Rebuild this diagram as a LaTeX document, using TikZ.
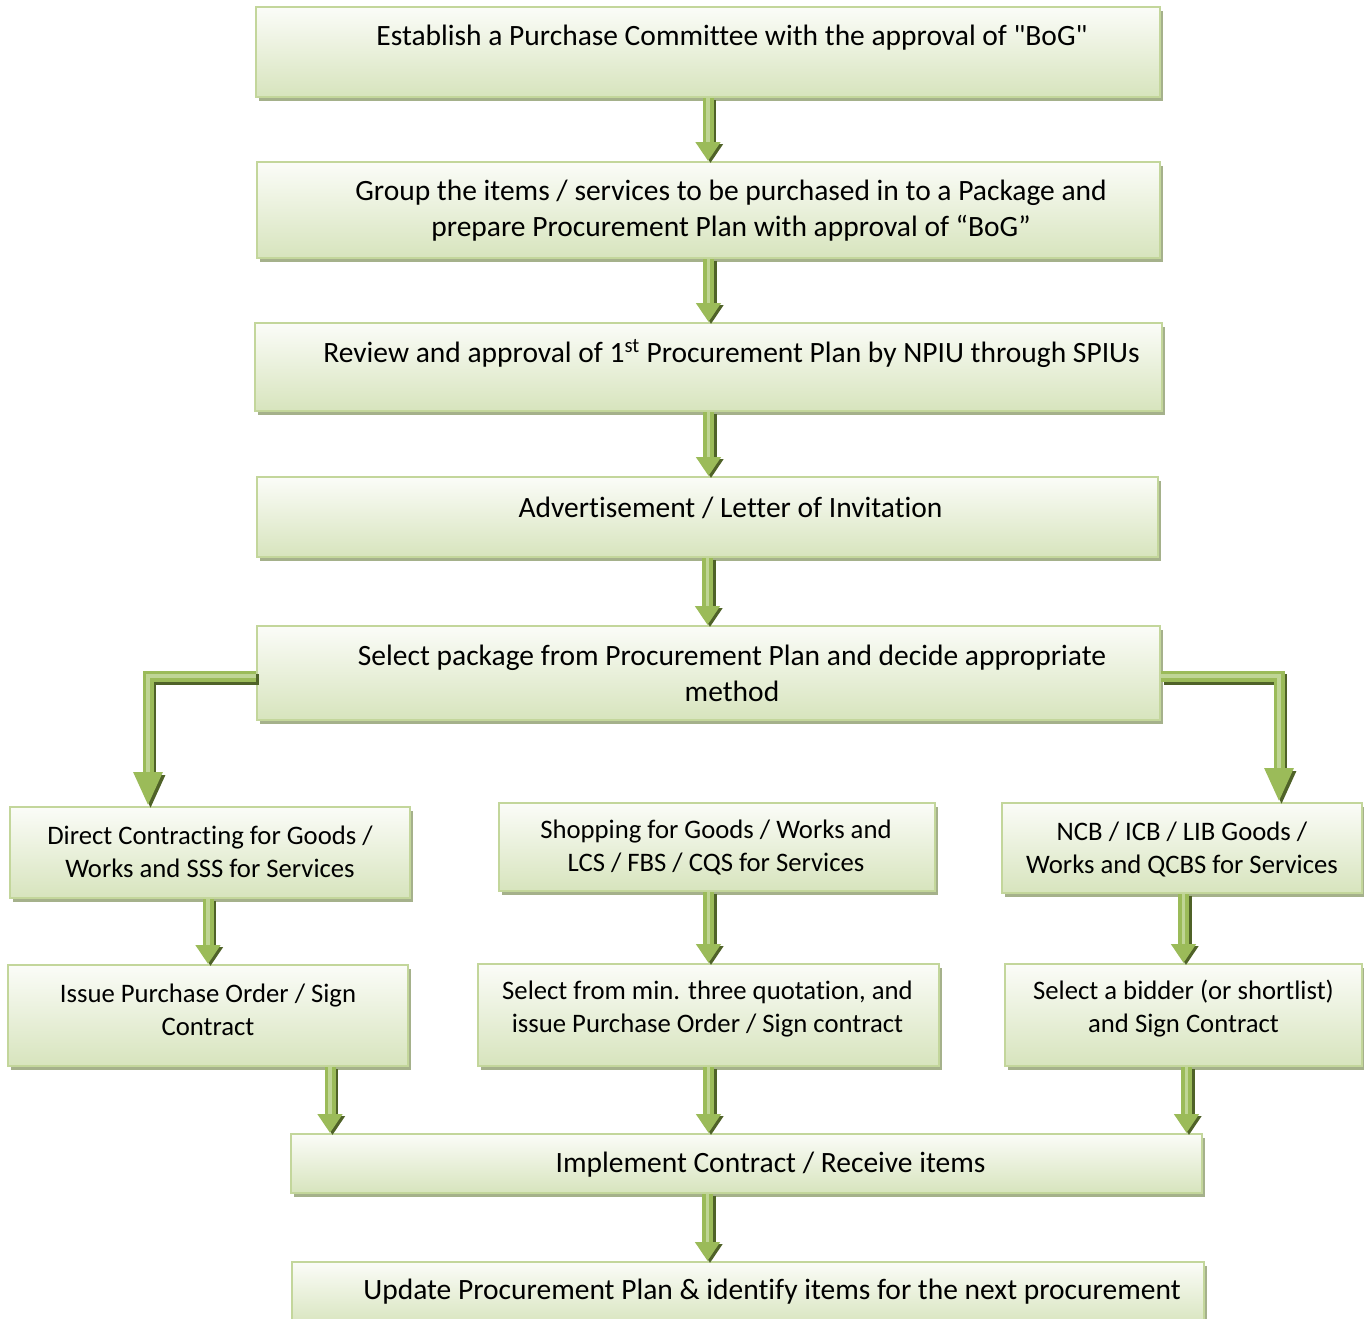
\documentclass[tikz,border=0pt]{standalone}
\usepackage{fontspec}
\setmainfont{Carlito}[Ligatures={TeX,NoCommon,NoContextual,NoRare,NoDiscretionary},Contextuals=NoAlternate]
\newfontfamily\nomapfont{Carlito}
\usetikzlibrary{arrows.meta,shadows}
\definecolor{bordergreen}{HTML}{C3D69B}
\definecolor{filltop}{HTML}{FBFCF8}
\definecolor{fillbot}{HTML}{D7E4BD}
\definecolor{shadowgreen}{HTML}{A5B18B}
\definecolor{arrowgreen}{HTML}{9BBB59}
\definecolor{arrowdark}{HTML}{4F6228}
\definecolor{arrowlight}{HTML}{BFD595}
\begin{document}
\begin{tikzpicture}[x=1pt,y=-1pt,
 box/.style={rectangle, draw=bordergreen, line width=2pt, top color=filltop, bottom color=fillbot,
   drop shadow={shadow xshift=3pt,shadow yshift=-3.5pt,fill=shadowgreen,opacity=1}, inner sep=0pt},
 bigtxt/.style={font=\fontsize{29.5}{36}\selectfont, align=center, inner sep=0pt, text=black},
 smalltxt/.style={font=\fontsize{26.7}{33}\selectfont, align=center, inner sep=0pt, text=black},
 barrow/.style={line width=11pt, draw=arrowgreen, -{Triangle[width=24pt,length=19pt]},
   preaction={draw=arrowdark, line width=11pt, -{Triangle[width=24pt,length=19pt]}, transform canvas={xshift=2.5pt,yshift=-2pt}},
   postaction={draw=arrowlight, line width=3.5pt, -, shorten >=19pt}},
 elbow/.style={line width=11pt, draw=arrowgreen, -{Triangle[width=27pt,length=34pt]}, line join=miter,
   preaction={draw=arrowdark, line width=11pt, line join=miter, -{Triangle[width=27pt,length=34pt]}, transform canvas={xshift=2.5pt,yshift=-3pt}},
   postaction={draw=arrowlight, line width=3.5pt, -, shorten >=34pt}}
]
\useasboundingbox (0,0) rectangle (1364,1318);

% boxes
\node[box, minimum width=904pt, minimum height=90pt] (b1) at (708,52) {};
\node[box, minimum width=903pt, minimum height=96pt] (b2) at (708.5,210) {};
\node[box, minimum width=907pt, minimum height=88pt] (b3) at (708.5,367) {};
\node[box, minimum width=901pt, minimum height=80pt] (b4) at (707.5,517) {};
\node[box, minimum width=903pt, minimum height=94pt] (b5) at (708.5,673) {};
\node[box, minimum width=400pt, minimum height=91pt] (direct) at (210,852.5) {};
\node[box, minimum width=436pt, minimum height=88pt] (shop) at (717,847) {};
\node[box, minimum width=360pt, minimum height=90pt] (ncb) at (1182,848) {};
\node[box, minimum width=400pt, minimum height=101pt] (issue) at (208,1015.5) {};
\node[box, minimum width=461pt, minimum height=102pt] (selq) at (708.5,1015) {};
\node[box, minimum width=357pt, minimum height=102pt] (bid) at (1183.5,1015) {};
\node[box, minimum width=911pt, minimum height=59pt] (impl) at (746.5,1163.5) {};
\node[box, minimum width=912pt, minimum height=64pt] (upd) at (748,1294) {};

% texts
\node[bigtxt] (t1) at (732,37.5) {Establish a Purchase Committee with the approval of {\nomapfont"}BoG{\nomapfont"}};
\node[bigtxt] (t2) at (731,210.5) {Group the items / services to be purchased in to a Package and\\prepare Procurement Plan with approval of “BoG”};
\node[bigtxt] (t3) at (731.5,353.5) {Review and approval of 1\textsuperscript{st} Procurement Plan by NPIU through SPIUs};
\node[bigtxt] (t4) at (730.5,507.5) {Advertisement / Letter of Invitation};
\node[bigtxt] (t5) at (732,673.5) {Select package from Procurement Plan and decide appropriate\\method};
\node[smalltxt] (t6) at (210,852) {Direct Contracting for Goods /\\Works and SSS for Services};
\node[smalltxt] (t7) at (716,847.5) {Shopping for Goods / Works and\\LCS / FBS / CQS for Services};
\node[smalltxt] (t8) at (1182,849.5) {NCB / ICB / LIB Goods /\\Works and QCBS for Services};
\node[smalltxt] (t9) at (208,1010) {Issue Purchase Order / Sign\\Contract};
\node[smalltxt] (t10) at (707.5,1009) {Select from min. three quotation, and\\issue Purchase Order / Sign contract};
\node[smalltxt] (t11) at (1183.5,1009) {Select a bidder (or shortlist)\\and Sign Contract};
\node[bigtxt] (t12) at (770.5,1164.5) {Implement Contract / Receive items};
\node[bigtxt] (t13) at (772,1291.5) {Update Procurement Plan \& identify items for the next procurement};

% arrows
\draw[barrow] (b1.south) -- (b1.south |- b2.north);
\draw[barrow] (b2.south) -- (b2.south |- b3.north);
\draw[barrow] (b3.south) -- (b3.south |- b4.north);
\draw[barrow] (b4.south) -- (b4.south |- b5.north);
\draw[elbow] ([yshift=-3pt]b5.west) -| ([xshift=-62pt]direct.north);
\draw[elbow] ([yshift=-3pt]b5.east) -| ([xshift=97pt]ncb.north);
\draw[barrow] (issue.north |- direct.south) -- (issue.north);
\draw[barrow] (selq.north |- shop.south) -- (selq.north);
\draw[barrow] (bid.north |- ncb.south) -- (bid.north);
\draw[barrow] ([xshift=122pt]issue.south) -- ([xshift=122pt]issue.south |- impl.north);
\draw[barrow] (selq.south) -- (selq.south |- impl.north);
\draw[barrow] ([xshift=3pt]bid.south) -- ([xshift=3pt]bid.south |- impl.north);
\draw[barrow] (b4.south |- impl.south) -- (b4.south |- upd.north);
\end{tikzpicture}
\end{document}
